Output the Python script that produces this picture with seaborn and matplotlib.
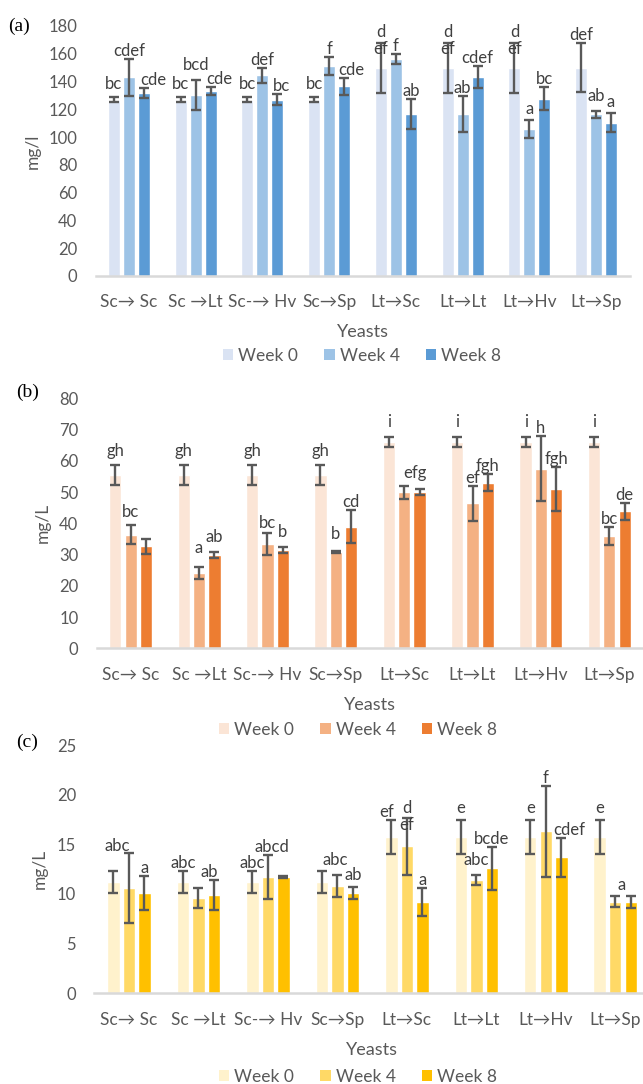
import numpy as np
import pandas as pd
import matplotlib
matplotlib.use("Agg")
import matplotlib.pyplot as plt
from matplotlib.patches import Patch
import seaborn as sns

# ---------------- data ----------------
yeasts = ["Sc\u2192 Sc", "Sc \u2192Lt", "Sc-\u2192 Hv", "Sc\u2192Sp",
          "Lt\u2192Sc", "Lt\u2192Lt", "Lt\u2192Hv", "Lt\u2192Sp"]
weeks = ["Week 0", "Week 4", "Week 8"]

# panel (a)  mg/l
a_w0 = [127, 127, 127, 127, 150, 150, 150, 150]
a_w0_err = [2, 2, 2, 2, 18, 18, 18, 17.5]
a_w4 = [143, 130, 144.7, 151.2, 156, 116.9, 105.6, 116.4]
a_w4_err = [13.5, 10.8, 5.4, 6.4, 3.7, 13, 6.5, 2.3]
a_w8 = [131.7, 133.2, 127, 136.6, 116.9, 143.5, 127.7, 110.4]
a_w8_err = [3.6, 2.7, 4.2, 6, 10.8, 7.8, 8.3, 6.8]
a_w0_lbl = ["bc", "bc", "bc", "bc", "d\nef", "d\nef", "d\nef", "def"]
a_w4_lbl = ["cdef", "bcd", "def", "f", "f", "ab", "a", "ab"]
a_w8_lbl = ["cde", "cde", "bc", "cde", "ab", "cdef", "bc", "a"]

# panel (b)  mg/L
b_w0 = [55.5, 55.5, 55.5, 55.5, 66, 66, 66, 66]
b_w0_err = [3.3, 3.3, 3.3, 3.3, 1.6, 1.6, 1.6, 1.6]
b_w4 = [36.3, 24, 33.4, 30.7, 49.9, 46.4, 57.4, 36]
b_w4_err = [3, 1.9, 3.5, 0.3, 2, 5.6, 10.4, 2.9]
b_w8 = [32.7, 29.9, 31.5, 38.9, 49.9, 53, 51, 43.9]
b_w8_err = [2.4, 1, 0.9, 5.2, 1, 2.7, 7, 2.7]
b_w0_lbl = ["gh", "gh", "gh", "gh", "i", "i", "i", "i"]
b_w4_lbl = ["bc", "a", "bc", "b", "", "ef", "h", "bc"]
b_w8_lbl = ["", "ab", "b", "cd", "efg", "fgh", "fgh", "de"]

# panel (c)  mg/L
c_w0 = [11.2, 11.2, 11.2, 11.2, 15.7, 15.7, 15.7, 15.7]
c_w0_err = [1.1, 1.1, 1.1, 1.1, 1.7, 1.7, 1.7, 1.7]
c_w4 = [10.6, 9.6, 11.7, 10.8, 14.8, 11.4, 16.3, 9.2]
c_w4_err = [3.55, 1.0, 2.2, 1.1, 2.9, 0.5, 4.6, 0.55]
c_w8 = [10.1, 9.9, 11.7, 10.1, 9.2, 12.6, 13.7, 9.2]
c_w8_err = [1.7, 1.5, 0.1, 0.6, 1.4, 2.15, 1.95, 0.6]
c_w0_lbl = ["abc", "abc", "abc", "abc", "ef", "e", "e", "e"]
c_w4_lbl = ["", "", "abcd", "", "d\nef", "abc", "f", "a"]
c_w8_lbl = ["a", "ab", "", "ab", "a", "bcde", "cdef", ""]

pal_a = ["#DAE3F3", "#9DC3E6", "#5B9BD5"]
pal_b = ["#FBE5D6", "#F4B183", "#ED7D31"]
pal_c = ["#FFF2CC", "#FFD966", "#FFC000"]

# label placement tweaks (pixels): (week index, yeast index) -> (dx, dy)
nudge_a = {(0, 0): (0, 5), (0, 1): (0, 5), (0, 2): (0, 5), (0, 3): (0, 5),
           (0, 4): (0, -14), (0, 5): (0, -14), (0, 6): (0, -14),
           (1, 1): (0, 7), (1, 6): (0, 3), (1, 7): (0, 7),
           (2, 0): (9, 0), (2, 1): (9, 0), (2, 2): (4, 0), (2, 3): (7, 0),
           (2, 7): (0, 3)}
nudge_b = {(0, 0): (0, 6), (0, 1): (0, 6), (0, 2): (0, 6), (0, 3): (0, 6),
           (0, 4): (0, 7), (0, 5): (0, 7), (0, 6): (0, 7), (0, 7): (0, 7),
           (1, 0): (0, 5), (1, 1): (0, 11), (1, 2): (0, 2), (1, 3): (0, 9),
           (2, 1): (0, 7), (2, 2): (0, 7), (2, 4): (-5, 8)}
nudge_c = {(0, 0): (4, 17), (0, 3): (13, 3), (0, 4): (-5, 0),
           (0, 5): (0, 4), (0, 6): (0, 4), (0, 7): (0, 4),
           (1, 2): (4, 0), (1, 4): (0, -15), (1, 5): (0, 7), (1, 7): (6, 3),
           (2, 1): (-5, 0), (2, 3): (0, 4), (2, 6): (8, 0)}

# ---------------- style ----------------
sns.set_theme(style="white")
FONT = ["Lato", "DejaVu Sans"]
plt.rcParams["font.family"] = FONT
TXT = "#595959"
LBL = "#404040"
PT = 0.72  # points per pixel at 100 dpi

W, H = 643, 1084
fig = plt.figure(figsize=(W / 100, H / 100), dpi=100)


def px_axes(l, r, t, b):
    return fig.add_axes([l / W, 1 - b / H, (r - l) / W, (b - t) / H])


def panel(ax, vals, errs, lbls, nudge, pal, ymax, ystep, ylabel, tag, tag_xy,
          ylab_x, leg_xy):
    rows = []
    for wk, v in zip(weeks, vals):
        for y, val in zip(yeasts, v):
            rows.append({"Yeast": y, "Week": wk, "Value": val})
    df = pd.DataFrame(rows)
    sns.barplot(data=df, x="Yeast", y="Value", hue="Week", order=yeasts,
                hue_order=weeks, palette=pal, saturation=1, width=0.672,
                gap=0.2, errorbar=None, legend=False, ax=ax, zorder=2)
    for wi, (cont, e, lb) in enumerate(zip(ax.containers, errs, lbls)):
        xs = [p.get_x() + p.get_width() / 2 for p in cont.patches]
        hs = [p.get_height() for p in cont.patches]
        ax.errorbar(xs, hs, yerr=e, fmt="none", ecolor="#595959",
                    elinewidth=1.7, capsize=3.6, capthick=1.7, zorder=3)
        for yi, (x, h, ee, t) in enumerate(zip(xs, hs, e, lb)):
            if t:
                dx, dy = nudge.get((wi, yi), (0, 0))
                ax.annotate(t, (x, h + ee),
                            xytext=(dx * PT, (3 + dy) * PT),
                            textcoords="offset points", ha="center",
                            va="baseline", fontsize=12, color=LBL,
                            linespacing=1.05, multialignment="center",
                            zorder=4)
    ax.set_xlim(-0.5, 7.5)
    ax.set_ylim(0, ymax)
    ticks = np.arange(0, ymax + 0.1, ystep)
    ax.set_yticks(ticks)
    ax.set_yticklabels([f"{int(v)}" for v in ticks])
    for s in ["top", "right", "left"]:
        ax.spines[s].set_visible(False)
    ax.spines["bottom"].set_color("#D9D9D9")
    ax.spines["bottom"].set_linewidth(1.8)
    ax.tick_params(axis="both", length=0, colors=TXT)
    ax.tick_params(axis="y", pad=13, labelsize=12)
    ax.tick_params(axis="x", pad=13.3, labelsize=12.5)
    ax.set_xlabel("Yeasts", fontsize=13, color=TXT, labelpad=10)
    ax.set_ylabel("")
    pos = ax.get_position()
    fig.text(ylab_x / W, (pos.y0 + pos.y1) / 2, ylabel, rotation=90,
             ha="center", va="center", fontsize=12.5, color=TXT)
    fig.text(tag_xy[0] / W, 1 - tag_xy[1] / H, tag, ha="left", va="center",
             fontsize=14, family=["Liberation Serif", "DejaVu Serif"],
             color="black")
    handles = [Patch(facecolor=c, edgecolor="none") for c in pal]
    fig.legend(handles, weeks, loc="center",
               bbox_to_anchor=(leg_xy[0] / W, 1 - leg_xy[1] / H), ncol=3,
               frameon=False, fontsize=12.5, handlelength=0.6,
               handleheight=0.6, handletextpad=0.3, columnspacing=1.5,
               labelcolor=TXT)


ax_a = px_axes(95.5, 629.5, 26, 276)
panel(ax_a, [a_w0, a_w4, a_w8], [a_w0_err, a_w4_err, a_w8_err],
      [a_w0_lbl, a_w4_lbl, a_w8_lbl], nudge_a, pal_a, 180, 20, "mg/l", "(a)",
      (8, 26), 33, (362, 356))

ax_b = px_axes(96.5, 643.5, 398.3, 648.3)
panel(ax_b, [b_w0, b_w4, b_w8], [b_w0_err, b_w4_err, b_w8_err],
      [b_w0_lbl, b_w4_lbl, b_w8_lbl], nudge_b, pal_b, 80, 10, "mg/L", "(b)",
      (16, 392), 43, (358, 730))

ax_c = px_axes(94.2, 650, 745, 993.3)
panel(ax_c, [c_w0, c_w4, c_w8], [c_w0_err, c_w4_err, c_w8_err],
      [c_w0_lbl, c_w4_lbl, c_w8_lbl], nudge_c, pal_c, 25, 5, "mg/L", "(c)",
      (16, 742), 40, (358, 1077))

fig.savefig("out.png", dpi=100)
